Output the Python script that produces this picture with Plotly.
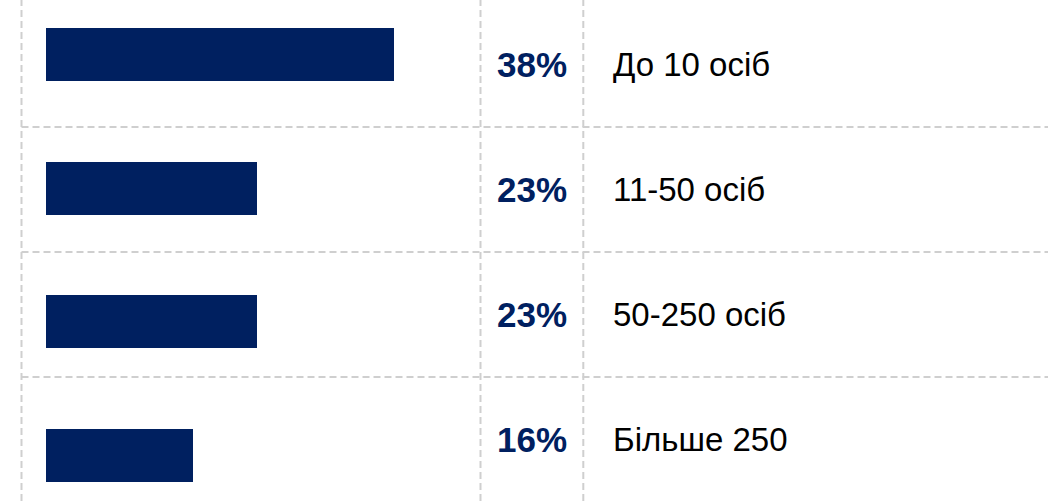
import plotly.graph_objects as go

categories = ["До 10 осіб", "11-50 осіб", "50-250 осіб", "Більше 250"]
values = [38, 23, 23, 16]
positions = [0, 1, 2, 3]

W, H = 1048, 501
BAR_COLOR = "#002060"
GRID_COLOR = "#cfcfcf"

fig = go.Figure()
fig.add_trace(go.Bar(
    x=values, y=positions, orientation="h",
    marker=dict(color=BAR_COLOR, line=dict(width=0)),
    width=0.3965, hoverinfo="skip", showlegend=False,
))

# invisible trace on yaxis2 so the row axis is active
fig.add_trace(go.Scatter(
    x=[None] * len(positions), y=positions, yaxis="y2", mode="markers",
    showlegend=False, hoverinfo="skip",
))

shapes = []
dash = "7px,4px"
# vertical table lines
for xp in [21.5 / W, 480.5 / W, 583.3 / W]:
    shapes.append(dict(type="line", xref="paper", yref="paper", x0=xp, x1=xp, y0=0, y1=1,
                       line=dict(color=GRID_COLOR, width=2, dash=dash), layer="below"))
# horizontal row separators
for b in [0.5, 1.5, 2.5]:
    shapes.append(dict(type="line", xref="paper", yref="y2", x0=21.5 / W, x1=1, y0=b, y1=b,
                       line=dict(color=GRID_COLOR, width=2, dash=dash), layer="below"))

annotations = []
for i, (cat, v) in enumerate(zip(categories, values)):
    annotations.append(dict(
        x=531.5 / W, xref="paper", y=i, yref="y2", text=f"<b>{v}%</b>",
        showarrow=False, xanchor="center", yanchor="middle",
        font=dict(family="Liberation Sans, Arial, sans-serif", size=35, color=BAR_COLOR),
    ))
    annotations.append(dict(
        x=611 / W, xref="paper", y=i, yref="y2", text=cat,
        showarrow=False, xanchor="left", yanchor="middle",
        font=dict(family="Liberation Sans, Arial, sans-serif", size=33, color="#000000"),
    ))

px_per_unit = (394 - 46) / 38.0
fig.update_layout(
    width=W, height=H,
    margin=dict(l=0, r=0, t=0, b=0),
    paper_bgcolor="white", plot_bgcolor="white",
    xaxis=dict(range=[-46 / px_per_unit, (W - 46) / px_per_unit], visible=False, fixedrange=True),
    yaxis=dict(range=[3.340, -0.408], visible=False, fixedrange=True),
    yaxis2=dict(range=[3.492, -0.516], overlaying="y", visible=False, fixedrange=True),
    shapes=shapes, annotations=annotations,
    bargap=0,
)

fig.write_html("out.html")
